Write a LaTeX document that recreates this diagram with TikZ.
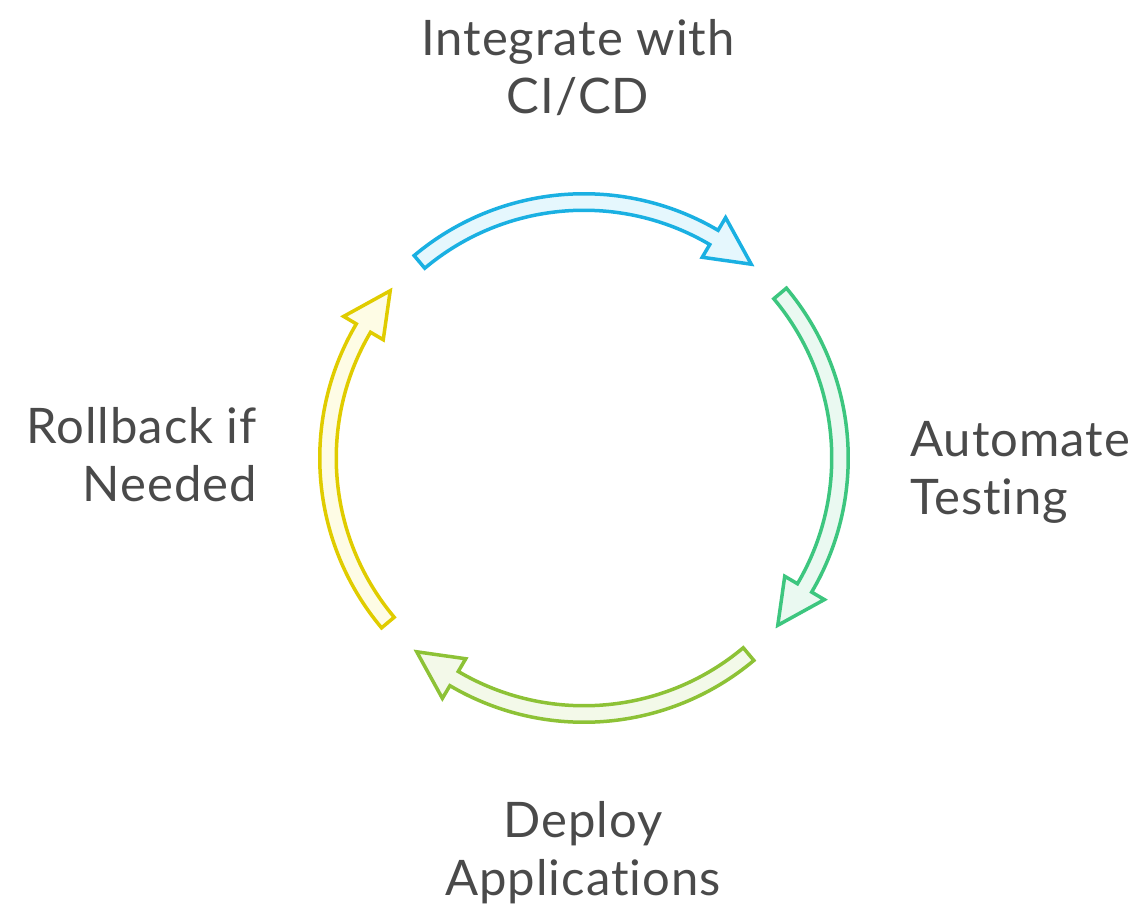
\documentclass[tikz,border=0pt]{standalone}
\usepackage{fontspec}
\setmainfont{Lato}[Ligatures={NoCommon}, LetterSpace=2]
\usepackage{xcolor}
\usetikzlibrary{positioning}

\definecolor{ciline}{HTML}{1AB0E2}
\definecolor{cifill}{HTML}{E5F7FD}
\definecolor{testline}{HTML}{3DC67F}
\definecolor{testfill}{HTML}{EAF9F1}
\definecolor{deployline}{HTML}{8DC236}
\definecolor{deployfill}{HTML}{F3F9E9}
\definecolor{rollline}{HTML}{E0CC00}
\definecolor{rollfill}{HTML}{FEFCE5}
\definecolor{labeltext}{HTML}{4A4A4A}

% one curved block arrow of the cycle, running clockwise round its middle angle
% #1 middle angle, #2 outline colour, #3 fill colour
\newcommand{\cyclearrow}[3]{%
  \pgfmathsetmacro{\tailang}{#1+40}%
  \pgfmathsetmacro{\headang}{#1-30.5}%
  \pgfmathsetmacro{\tipang}{#1-40.8}%
  \draw[seg, draw=#2, fill=#3]
    (\tailang:264.25pt) arc[start angle=\tailang, end angle=\headang, radius=264.25pt]
    -- (\headang:279pt) -- (\tipang:256pt) -- (\headang:233pt)
    -- (\headang:247.75pt) arc[start angle=\headang, end angle=\tailang, radius=247.75pt]
    -- cycle;}

\begin{document}
\begin{tikzpicture}[
    seg/.style={line width=3.5pt, line join=miter},
    lbl/.style={inner sep=0pt, text=labeltext, font=\fontsize{49}{58}\selectfont}
    ]
    \useasboundingbox (-584pt,-447pt) rectangle (558pt,458pt);

    % the four steps of the cycle
    \cyclearrow{90}{ciline}{cifill}
    \cyclearrow{0}{testline}{testfill}
    \cyclearrow{-90}{deployline}{deployfill}
    \cyclearrow{180}{rollline}{rollfill}

    \node[lbl, align=center] (integrate) at (-6pt,390pt) {Integrate with\\CI/CD};
    \node[lbl, align=left, anchor=west] (testing) at (326pt,-14pt) {Automate\\Testing};
    \node[lbl, align=center] (deploy) at (-1pt,-395pt) {Deploy\\Applications};
    \node[lbl, align=right, anchor=east] (rollback) at (-327pt,3pt) {Rollback if\\Needed};
\end{tikzpicture}
\end{document}
